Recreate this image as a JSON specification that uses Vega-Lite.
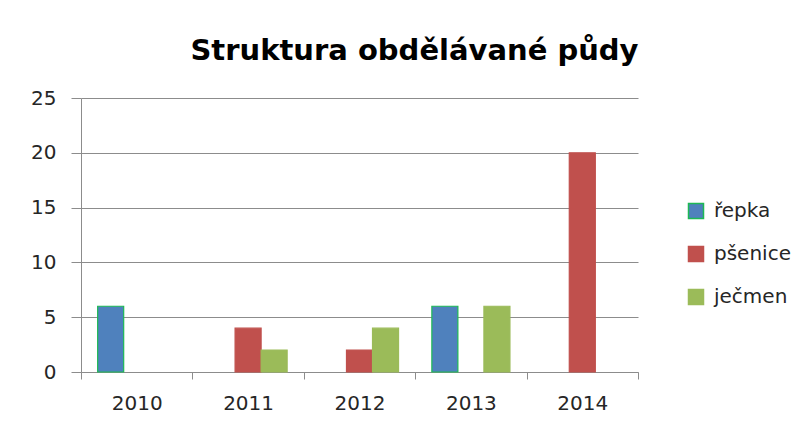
{
  "$schema": "https://vega.github.io/schema/vega-lite/v6.json",
  "width": 557,
  "height": 274,
  "autosize": "none",
  "padding": {"left": 81, "top": 98, "right": 168, "bottom": 54},
  "background": "white",
  "title": {
    "text": "Struktura obdělávané půdy",
    "font": "DejaVu Sans",
    "fontSize": 29,
    "fontWeight": "bold",
    "color": "#000000",
    "anchor": "middle",
    "dx": 55,
    "offset": 22
  },
  "data": {
    "values": [
      {"rok": "2010", "plodina": "řepka", "hodnota": 6},
      {"rok": "2010", "plodina": "pšenice", "hodnota": 0},
      {"rok": "2010", "plodina": "ječmen", "hodnota": 0},
      {"rok": "2011", "plodina": "řepka", "hodnota": 0},
      {"rok": "2011", "plodina": "pšenice", "hodnota": 4},
      {"rok": "2011", "plodina": "ječmen", "hodnota": 2},
      {"rok": "2012", "plodina": "řepka", "hodnota": 0},
      {"rok": "2012", "plodina": "pšenice", "hodnota": 2},
      {"rok": "2012", "plodina": "ječmen", "hodnota": 4},
      {"rok": "2013", "plodina": "řepka", "hodnota": 6},
      {"rok": "2013", "plodina": "pšenice", "hodnota": 0},
      {"rok": "2013", "plodina": "ječmen", "hodnota": 6},
      {"rok": "2014", "plodina": "řepka", "hodnota": 0},
      {"rok": "2014", "plodina": "pšenice", "hodnota": 20},
      {"rok": "2014", "plodina": "ječmen", "hodnota": 0}
    ]
  },
  "transform": [{"filter": "datum.hodnota > 0"}],
  "mark": {"type": "bar", "strokeWidth": 1.2},
  "encoding": {
    "x": {
      "field": "rok",
      "type": "nominal",
      "scale": {"paddingInner": 0, "paddingOuter": 0},
      "axis": {
        "title": null,
        "labelAngle": 0,
        "labelFont": "DejaVu Sans",
        "labelFontSize": 20,
        "labelColor": "#262626",
        "labelPadding": 14,
        "tickBand": "extent",
        "tickSize": 7,
        "tickColor": "#8c8c8c",
        "domainColor": "#8c8c8c",
        "grid": false
      }
    },
    "xOffset": {
      "field": "plodina",
      "type": "nominal",
      "scale": {"domain": ["řepka", "pšenice", "ječmen"], "paddingInner": 0, "paddingOuter": 0.64}
    },
    "y": {
      "field": "hodnota",
      "type": "quantitative",
      "scale": {"domain": [0, 25]},
      "axis": {
        "title": null,
        "values": [0, 5, 10, 15, 20, 25],
        "labelFont": "DejaVu Sans",
        "labelFontSize": 20,
        "labelColor": "#262626",
        "labelPadding": 15,
        "tickSize": 10,
        "tickColor": "#8c8c8c",
        "domainColor": "#8c8c8c",
        "gridColor": "#8c8c8c",
        "gridWidth": 1
      }
    },
    "fill": {
      "field": "plodina",
      "type": "nominal",
      "scale": {"domain": ["řepka", "pšenice", "ječmen"], "range": ["#4F81BD", "#C0504D", "#9BBB59"]},
      "legend": {
        "title": null,
        "labelFont": "DejaVu Sans",
        "labelFontSize": 20,
        "labelColor": "#262626",
        "symbolType": "square",
        "symbolSize": 225,
        "rowPadding": 21,
        "labelOffset": 8,
        "orient": "none",
        "legendX": 605,
        "legendY": 103
      }
    },
    "stroke": {
      "field": "plodina",
      "type": "nominal",
      "scale": {"domain": ["řepka", "pšenice", "ječmen"], "range": ["#1DB954", "#C0504D", "#9BBB59"]}
    }
  },
  "config": {"view": {"stroke": null}}
}
